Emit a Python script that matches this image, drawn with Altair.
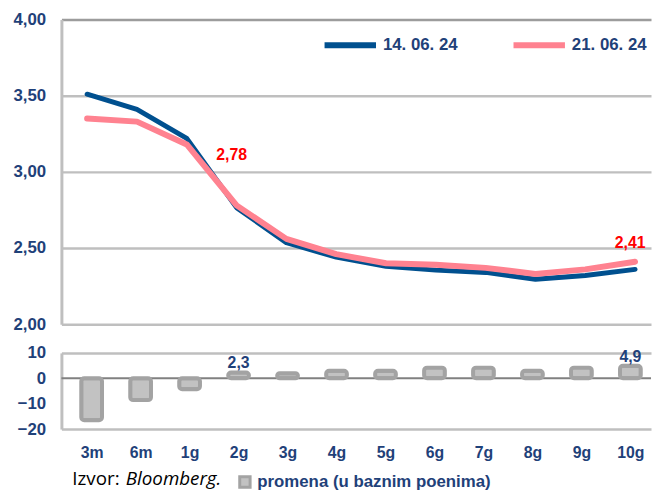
import altair as alt
import pandas as pd

categories = ["3m", "6m", "1g", "2g", "3g", "4g", "5g", "6g", "7g", "8g", "9g", "10g"]
series_names = ["14. 06. 24", "21. 06. 24"]
yields_1406 = [3.51, 3.41, 3.22, 2.765, 2.535, 2.44, 2.38, 2.355, 2.34, 2.295, 2.32, 2.36]
yields_2106 = [3.35, 3.33, 3.18, 2.78, 2.56, 2.46, 2.40, 2.39, 2.37, 2.33, 2.36, 2.41]
change_bp = [-16.5, -8.6, -4.3, 2.3, 2.0, 3.0, 3.0, 4.2, 4.2, 3.0, 4.2, 4.9]
bar_label_name = "promena (u baznim poenima)"
source_prefix = "Izvor: "
source_name = "Bloomberg."

BLUE = "#00508F"
PINK = "#FF8290"
TXT = "#1F4179"
GRID = "#BFBFBF"
FONT = "Liberation Sans"

idx = list(range(len(categories)))
lines_df = pd.DataFrame({
    "idx": idx * 2,
    "cat": categories * 2,
    "series": [series_names[0]] * len(idx) + [series_names[1]] * len(idx),
    "value": yields_1406 + yields_2106,
})
bars_df = pd.DataFrame({"idx": idx, "cat": categories, "change": change_bp, "lbl": [bar_label_name] * len(idx)})

xscale = alt.Scale(domain=[-0.516, 11.32], nice=False, zero=False)
label_js = "[" + ",".join("'" + c + "'" for c in categories) + "][datum.value]"

W = 596

# ---------- top panel ----------
y_top = alt.Y(
    "value:Q",
    scale=alt.Scale(domain=[2, 4], nice=False, zero=False),
    axis=alt.Axis(
        values=[2, 2.5, 3, 3.5, 4],
        labelExpr="replace(format(datum.value,'.2f'),'.',',')",
        ticks=False, title=None, labelPadding=16,
        domainColor=GRID, domainWidth=3,
        gridColor={"condition": {"test": "datum.value === 4", "value": "#9C9C9C"}, "value": GRID},
        gridWidth=2.5,
        labelFontSize=17, labelFontWeight="bold", labelColor=TXT, labelFont=FONT,
        minExtent=50, maxExtent=50,
    ),
)
color = alt.Color(
    "series:N",
    scale=alt.Scale(domain=series_names, range=[BLUE, PINK]),
    legend=alt.Legend(
        title=None, orient="none", direction="horizontal",
        legendX=263, legendY=-3,
        symbolType="stroke", symbolSize=2704, symbolStrokeWidth=6,
        labelFontSize=17, labelFontWeight="bold", labelColor=TXT, labelFont=FONT,
        labelOffset=4, columnPadding=44, labelLimit=0,
    ),
)
x_top = alt.X("idx:Q", scale=xscale, axis=None)

blue_line = alt.Chart(lines_df).transform_filter(alt.datum.series == series_names[0]).mark_line(
    strokeWidth=5, strokeCap="round", strokeJoin="round"
).encode(x=x_top, y=y_top, color=color)
pink_line = alt.Chart(lines_df).transform_filter(alt.datum.series == series_names[1]).mark_line(
    strokeWidth=6, strokeCap="round", strokeJoin="round"
).encode(x=x_top, y=y_top, color=color)

lab_base = alt.Chart(lines_df).transform_filter(alt.datum.series == series_names[1]).transform_calculate(
    txt="replace(format(datum.value,'.2f'),'.',',')"
)
lab_2g = lab_base.transform_filter(alt.datum.cat == "2g").mark_text(
    dx=-5, dy=-51, fontSize=16, fontWeight="bold", color="#FF0000", font=FONT
).encode(x=x_top, y=y_top, text="txt:N")
lab_10g = lab_base.transform_filter(alt.datum.cat == "10g").mark_text(
    dx=-5, dy=-19, fontSize=16, fontWeight="bold", color="#FF0000", font=FONT
).encode(x=x_top, y=y_top, text="txt:N")

top = alt.layer(blue_line, pink_line, lab_2g, lab_10g).properties(width=W, height=308)

# ---------- bottom panel ----------
x_bot = alt.X(
    "idx:Q", scale=xscale,
    axis=alt.Axis(
        values=idx, labelExpr=label_js, ticks=False, domain=False, grid=False, title=None,
        labelPadding=16, labelFontSize=16, labelFontWeight="bold", labelColor=TXT, labelFont=FONT,
    ),
)
y_bot = alt.Y(
    "change:Q",
    scale=alt.Scale(domain=[-20, 10], nice=False),
    axis=alt.Axis(
        values=[-20, -10, 0, 10], ticks=False, title=None, labelPadding=16,
        domainColor=GRID, domainWidth=3,
        gridColor=GRID, gridWidth=2.5,
        gridOpacity={"condition": {"test": "datum.value === -10 || datum.value === 0", "value": 0}, "value": 1},
        labelFontSize=17, labelFontWeight="bold", labelColor=TXT, labelFont=FONT,
        minExtent=50, maxExtent=50,
    ),
)
zero_rule = alt.Chart(pd.DataFrame({"change": [0]})).mark_rule(color="#808080", strokeWidth=2).encode(y=y_bot)
bars = alt.Chart(bars_df).mark_bar(
    size=21, cornerRadius=3, stroke="#A3A3A3", strokeWidth=4, orient="vertical"
).encode(
    x=x_bot, y=y_bot,
    fill=alt.Fill(
        "lbl:N", scale=alt.Scale(range=["#C2C2C2"]),
        legend=alt.Legend(
            title=None, orient="none", legendX=177, legendY=459,
            symbolType="square", symbolSize=110, symbolStrokeColor="#A3A3A3", symbolStrokeWidth=3,
            labelFontSize=17, labelFontWeight="bold", labelColor=TXT, labelFont=FONT, labelOffset=4,
            labelLimit=0,
        ),
    ),
)
bar_text = alt.Chart(bars_df).transform_filter(
    (alt.datum.cat == "2g") | (alt.datum.cat == "10g")
).transform_calculate(
    txt="replace(format(datum.change,'.1f'),'.',',')"
).mark_text(baseline="bottom", dy=-1, fontSize=16, fontWeight="bold", color=TXT, font=FONT).encode(
    x=x_bot, y=y_bot, text="txt:N"
)
one = pd.DataFrame({"a": [0]})
src1 = alt.Chart(one).mark_text(align="left", baseline="middle", fontSize=19, color="#000000", font="Open Sans").encode(
    x=alt.value(11), y=alt.value(128), text=alt.value(source_prefix)
)
src2 = alt.Chart(one).mark_text(align="left", baseline="middle", fontSize=19, color="#000000", font="Open Sans",
                                fontStyle="italic").encode(
    x=alt.value(65), y=alt.value(128), text=alt.value(source_name)
)

bottom = alt.layer(zero_rule, bars, bar_text, src1, src2).properties(width=W, height=77)

chart = alt.vconcat(top, bottom, spacing=12).resolve_scale(x="independent", color="independent").properties(
    padding={"left": 4, "top": 0, "right": 0, "bottom": 0}
).configure_view(stroke=None)

chart.save("out.html", embed_options={"renderer": "svg", "actions": False})
